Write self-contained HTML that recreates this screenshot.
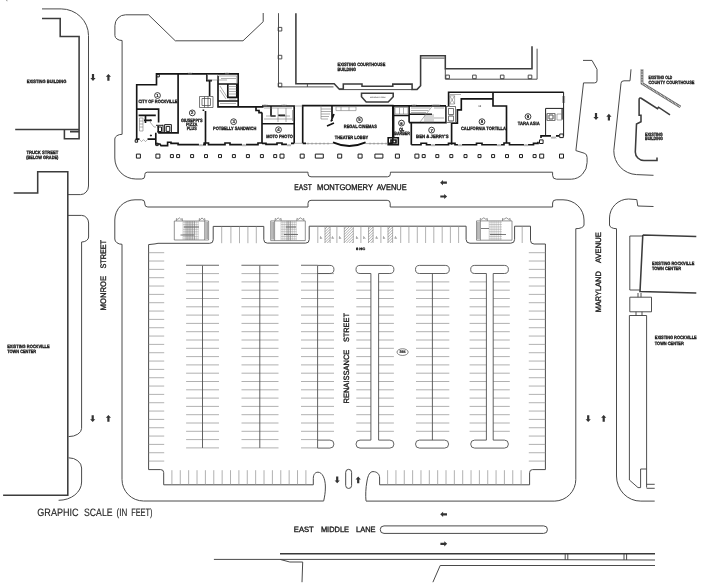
<!DOCTYPE html>
<html lang="en">
<head>
<meta charset="utf-8">
<title>Site Plan</title>
<style>
html,body{margin:0;padding:0;background:#fff;}
body{width:709px;height:588px;overflow:hidden;}
svg{display:block;filter:grayscale(1);}
path{fill:none;stroke-linecap:butt;stroke-linejoin:miter;}
.c{stroke:#4a4a4a;stroke-width:1;}
.t{stroke:#3c3c3c;stroke-width:.9;}
.b{stroke:#3c3c3c;stroke-width:1.55;}
.k{stroke:#3a3a3a;stroke-width:1.5;}
.r{stroke:#151515;stroke-width:1.65;}
.r2{stroke:#111;stroke-width:1.9;}
.g{stroke:#777;stroke-width:.6;}
.s{stroke:#1c1c1c;stroke-width:1;}
.p{stroke:#939393;stroke-width:.72;}
.hh{stroke:#707070;stroke-width:.55;}
.i{stroke:#505050;stroke-width:.9;}
.i2{stroke:#777;stroke-width:.9;}
.h{stroke:#606060;stroke-width:2.7;stroke-linejoin:round;}
.h3{stroke:#666;stroke-width:2.2;}
.h2{stroke:#e4e4e4;stroke-width:1.3;stroke-dasharray:.9 .7;stroke-linejoin:round;}
.sg{stroke:#999;stroke-width:.45;}
.sg2{stroke:#777;stroke-width:.5;}
.so{stroke:#666;stroke-width:.7;}
.sd{stroke:#444;stroke-width:.7;}
.a{fill:#333;stroke:none;}
.ue{fill:#fff;stroke:#333;stroke-width:.6;}
.uc{fill:#fff;stroke:#1a1a1a;stroke-width:.85;}
text{font-family:"Liberation Sans",sans-serif;fill:#222;text-rendering:geometricPrecision;}
.lb{font-weight:700;fill:#141414;stroke:#141414;stroke-width:.3;}
.lt{font-weight:700;fill:#444;}
.un{font-weight:700;fill:#111;stroke:#111;stroke-width:.15;}
.hcs{fill:#555;font-family:"DejaVu Sans","Liberation Sans",sans-serif;}
.st{fill:#1a1a1a;stroke:#1a1a1a;stroke-width:.34;}
.gs{fill:#262626;stroke:#262626;stroke-width:.15;}
</style>
</head>
<body>
<svg width="709" height="588" viewBox="0 0 709 588">
<rect x="0" y="0" width="709" height="588" fill="#fff"/>
<path class="c" d="M42,8.9 H61.2 A27.3,26.6 0 0 1 88.5,35.5 V186 A8,8.6 0 0 1 80.5,194.6 H68 M68,215.4 H81.6 A7,7.6 0 0 1 88.6,223 V237 A7,5 0 0 1 81.6,242 V428.4 A13,8.2 0 0 1 68.6,436.6 M68.6,457.8 A13,10.2 0 0 1 81.6,468 V482 A23,18.3 0 0 1 58.6,500.3 M263.2,13 V21.7 L243,40.8 H175.3 L148.5,14.8 H125.5 A10.6,10.9 0 0 0 114.9,25.7 V35.5 A7.2,5 0 0 0 122.1,40.5 V134.3 A7.3,4.7 0 0 0 114.8,139 V158 A21,21 0 0 0 135.8,179 H141.7 A3.1,3 0 0 0 144.8,176 V174.6 A2.4,2.4 0 0 1 147.2,172.2 H308 V173.8 A3,3 0 0 0 311,176.8 H387.4 A3,3 0 0 0 390.4,173.8 V172.2 H552.6 V175.3 A3.9,3.9 0 0 0 556.5,179.2 H571.3 A16.3,16.7 0 0 0 587.1,162.5 V157.5 A3.6,4.3 0 0 0 584.2,153.2 L575.9,150.6 L583.5,82.9 H594.4 A2.6,2.1 0 0 0 597,80.8 V69.3 L592,60.4 H583 M308,207 H147.8 A3,3 0 0 1 144.8,204 V203 A3.2,3.2 0 0 0 141.6,199.8 H135 A20.2,20.2 0 0 0 114.8,220 V239 A7.2,5.3 0 0 0 122,244.3 V479.5 A21.5,21.5 0 0 0 143.5,501 H323.7 M308,207 V203.3 A3,3 0 0 1 311,200.3 H387.2 A3,3 0 0 1 390.2,203.3 V207 H552.6 V203 A3.6,3.2 0 0 1 556.2,199.8 H563 A21,20.2 0 0 1 584,220 V225 A8,3.7 0 0 1 575.8,228.7 V479.5 A21.5,21.6 0 0 1 554.8,501.1 H366 M148.6,244.6 L155,243.9 L158,243.3 H209.7 A3.5,3.5 0 0 0 213.2,239.8 V226.4 H263.8 V239.6 A3.5,3.5 0 0 0 267.3,243.1 H305.7 A3.5,3.5 0 0 0 309.2,239.6 V226.2 H466.1 V239.4 A3.8,3.8 0 0 0 469.9,243.2 H510.8 A3.8,3.8 0 0 0 514.6,239.4 V226.2 H530.5 V240.4 A3.6,3.6 0 0 0 534.1,244 H545.4 V469.6 H532.6 A3,3 0 0 0 529.6,472.6 V484.8 H379.6 V478 C379.6,474 377,471.6 373,471.6 C370,471.6 368,475 367,481 C365.6,488 365.5,496 366,500.9 M148.6,244.6 V469.6 H160.7 A3,3 0 0 1 163.7,472.6 V484.8 H313.3 V478.5 C313.3,474 315.5,472.2 318,472.2 C322,472.2 325.4,478 325.4,487 C325.4,493 324.5,497 323.7,500.9 M345.7,472.3 A2.95,2.95 0 0 1 351.6,472.3 V485.5 A2.95,2.95 0 0 1 345.7,485.5 Z M384,525.9 H543.7 A3.75,3.75 0 0 1 543.7,533.4 H384 A3.75,3.75 0 0 1 384,525.9 Z M631,69.3 L630,80.8 H624 A3,2.5 0 0 0 621,83.3 L613.8,150.6 A23.8,23.8 0 0 0 636.5,174.6 L653.5,175.3 M653.5,206.5 L637.8,206 L636.8,199.6 L628.6,199 A19.2,19.2 0 0 0 609.5,218 V225 A7,3.7 0 0 0 616.5,228.7 V476 A24,25.1 0 0 0 640.8,501.1 H654.7 M213.9,559.4 H460 L655,560 M280,559.4 L289.8,562 H302.7 L302,582.2 M432.9,582.2 L440.2,565.5 L655,565.5 M565.2,553.4 V560 M567.8,553.4 V560 M624,553.4 V560 M626.6,553.4 V560"/>
<path class="t" d="M642.8,236 H629.8 V290 H640 M629.8,297.2 H651.5 V311.8 H629.8 Z M629.4,315.5 H646.6 M629.4,315.5 V480 L638,487.6 H640.6 V469 H646.6 M646.6,315.5 V487.6 M646.6,484.3 H654.7 M646.6,488.3 H654.7 M638,293 V297.2 M641,293 V297.2 M636,311.8 V315.5 M642,311.8 V315.5 M278.5,13.2 V86.9 H333.5 M339,89.6 H412.1 M307.4,83.8 V86.9 M421.3,58.1 H444.6 M445.3,68.7 V79.2 H537.1 V48.7"/>
<path class="b" d="M42,18.4 H60.2 V36.5 H79.1 V138.7 H64.4 V129.4 M79.1,129.4 H15.2 M70,131.6 H79.1 M13.7,193 H37.7 V171.8 H67.8 V495.2 H3.1 M295.9,13.2 V83.8 H334.2 L339.1,89 H343.3 V84 H362 V86.3 H392.8 V84.1 H412.1 V89.4 H417.1 L420.6,85.8 V55.8 H445.3 V68.7 H532 V46.2 M361.5,93.2 V96.8 L366.2,102 H388.2 L393.2,96.8 V93.2 Z M670,114.8 L658.5,107.2 L657.5,108.6 L641.2,98.3 Q639.2,97.4 639.1,99.8 V115.3 H641 V121.7 L636.5,124 L635.3,152 A8.7,8.5 0 0 0 644,160.5 H657 V157.4 M642.8,235 L696.3,236.6 M642.8,235 L640,291.6 L696.3,293"/>
<path class="h" d="M642,69.3 V83.4 L680.4,106.9"/>
<path class="h2" d="M642,69.3 V83.4 L680.4,106.9"/>
<path class="r" d="M136.7,139.1 V84.7 H156.5 V73.9 H238.2 V106.8 M178.1,73.9 V132.8 H158.2 M136.7,109.1 H158.6 V122.4 M138.6,115.4 H155.8 M144,120.3 H151 M145.5,115.4 V123 M135.6,139.1 H139.5 M147.5,139.1 H155.8 V144 H160 L161,145.6 H167.6 V142.2 H171 V143.4 H178.1 V144.6 H199 M203,144.6 H206 M155.8,132.8 V139.1 M158.2,126 V132.8 M206.8,73.9 V80.6 H212 M209.6,81.2 V96 M218,75.7 V106.8 H263.5 M227.8,84 H236.8 V97.3 H227.8 Z M218,84 H227.8 M218,101 H238.2 M205.5,111 V143 M203.4,111 V109.6 M203.4,143 H208.5 V144.6 H225 V143 H230 V144.6 H242 M246,144.6 H258 V143 H262 M262,112.6 V143.3 M256,107 V110.5 H259 V112.6 H262 M262,106 H294.2 V143.3 M262,123.7 H294.2 M262,143.3 H266 V144.4 H277 V143 H282 V144.4 H287 M291,143.3 H294.2 M270.5,116 H275.6 M278.2,115.3 H285 M271,106 V116 M302.7,143.3 V105.6 H392.8 V143.3 M302.7,143.3 H306 M388,143.3 H392.8 M334,114 L331,121.5 M332,105.6 V121 M327,126 L334,123 M393.6,105.9 V137.5 M393.6,115.5 H409.1 V105.9 M393.6,105.9 H446 M411.3,123 V144.7 M388.2,137.7 H398.3 V144.7 H388.2 Z M391,140 H396 V143 H391 Z M409.1,122.6 H446 V105.9 M409.1,114.2 H432 M409.1,115.5 V122.6 M451.6,123.1 V144.7 M411.3,144.7 H421 V143.2 H426.5 V144.7 H431 M435,144.7 H448.5 V143.4 H455 V144.7 H458 M448.6,105.9 V92.2 H563.6 M451.6,123.1 H457.4 V109.8 H461.3 V98.8 H493 V106 H506.5 V143.3 M493,92.2 V98.8 M462,144.7 H476.5 V143.2 H482 V144.7 H497 M501,144.7 H504 V143 H509.5 V144.7 H524 M528,144.7 H533.5 V143.4 H538 V141.8 M545.6,135.8 H541 V138 M545.6,135.8 H551 M556,135.8 H559"/>
<path class="r2" d="M333,142.4 Q349.3,149.6 365.6,142.4"/>
<path class="h3" d="M562.4,109 V119.5"/>
<path class="sd" d="M199.5,96.5 H213 V107.5 H199.5 Z M202,98.5 H210.5 V105.5 H202 Z M204.5,96.5 V107.5 M208,96.5 V107.5 M446.5,106.5 H455.5 V122.5 H446.5 Z M448.5,108.5 H453.5 V114.5 H448.5 Z M448.5,116 H453.5 V121 H448.5 Z M547,113.5 H555 V120.5 H547 Z M549,115 H553 V119 H549 Z"/>
<path class="g" d="M294.2,106 H302.7 M294.2,143.3 H302.7 M306,143.6 H333 M365.6,143.6 H388 M308,142.6 V144.6 M312,142.6 V144.6 M316,142.6 V144.6 M320,142.6 V144.6 M324,142.6 V144.6 M328,142.6 V144.6 M370,142.6 V144.6 M374,142.6 V144.6 M378,142.6 V144.6 M382,142.6 V144.6 M386,142.6 V144.6 M321,109 H331 M321,111.5 H331 M321,114 H330 M321,116.5 H329 M321,119 H328 M321,105.6 V119 M336,106.8 H356 V110.6 H336 Z M341,106.8 V110.6 M349,106.8 V110.6 M219,76 H237 M221,78.5 H236 M219,80 H227 M220,86 L227,97 M220,90 L226,99 M229,99 H236 M220,103.5 H236 M236.8,76 V84 M228,86.5 H236.5 M228,89 H236.5 M228,91.5 H236.5 M228,94 H236.5 M207,74.5 H217.5 V80 H207 Z M264,108 H292 M264,119 H292 M278,108 V122 M286,108 V122 M266,116 H276 M280,116 H290 M292.5,110 V121 M139.5,118 H143 V131 H139.5 Z M139.5,121 H143 M139.5,124 H143 M139.5,127 H143 M150,122 L154,127 H156 M139.5,139.6 L141.5,141.6 L143.5,139.6 L145.5,141.6 L147.5,139.6 M395,107.5 H408 V114 H395 Z M399.5,107.5 V114 M403.5,107.5 V114 M411,108 H430 M411,110.5 H428 M411,112.5 H426 M425,114.2 V122.6 M427,114.2 V122.6 M429,114.2 V122.6 M431,114.2 V122.6 M433,114.2 V122.6 M420,122 L432,106.5 M434,108 H444 M434,118 H444 M446.5,106.5 H455.5 V122.5 H446.5 Z M448.5,108.5 H453.5 V114.5 H448.5 Z M448.5,116 H453.5 V121 H448.5 Z M449.7,95.8 H454.6 V104 H449.7 Z M449.7,95.8 L454.6,104 M454.6,95.8 L449.7,104 M450,94.5 H461 M547,113.5 H555 V120.5 H547 Z M549,115 H553 V119 H549 Z M557,114 H562 V120 H557 Z M564.6,96 V103 M562.6,96 V103 M199,144.2 L200,146.2 L201,144.2 L202,146.2 L203,144.2 M242,144.2 L243,146.2 L244,144.2 L245,146.2 L246,144.2 M287,144.2 L288,146.2 L289,144.2 L290,146.2 L291,144.2 M431,144.2 L432,146.2 L433,144.2 L434,146.2 L435,144.2 M458,144.2 L459,146.2 L460,144.2 L461,146.2 L462,144.2 M497,144.2 L498,146.2 L499,144.2 L500,146.2 L501,144.2 M524,144.2 L525,146.2 L526,144.2 L527,146.2 L528,144.2 M188,72.6 L189,74.6 L190,72.6 L191,74.6 L192,72.6 M225,72.6 L226,74.6 L227,72.6 L228,74.6 L229,72.6 M263,104.4 L264,106.4 L265,104.4 L266,106.4 L267,104.4 M282,104.4 L283,106.4 L284,104.4 L285,106.4 L286,104.4 M412,104.4 L413,106.4 L414,104.4 L415,106.4 L416,104.4 M432,104.4 L433,106.4 L434,104.4 L435,106.4 L436,104.4 L437,106.4 L438,104.4 L439,106.4 L440,104.4 M551,136.6 L552,138.6 L553,136.6 L554,138.6 L555,136.6 L556,138.6"/>
<path class="s" d="M136.4,154.1 h4 v4 h-4 Z M155.9,154.1 h4 v4 h-4 Z M280,154.1 h4 v4 h-4 Z M300.2,154.1 h4 v4 h-4 Z M337.7,154.1 h4 v4 h-4 Z M358.1,154.1 h4 v4 h-4 Z M395.4,154.1 h4 v4 h-4 Z M414.9,154.1 h4 v4 h-4 Z M539.7,154.1 h4 v4 h-4 Z M559.5,154.1 h4 v4 h-4 Z M170.4,154.6 h3 v3 h-3 Z M176.6,154.6 h3 v3 h-3 Z M190.6,154.6 h3 v3 h-3 Z M204.5,154.6 h3 v3 h-3 Z M218.5,154.6 h3 v3 h-3 Z M232.4,154.6 h3 v3 h-3 Z M246.4,154.6 h3 v3 h-3 Z M260.4,154.6 h3 v3 h-3 Z M273.7,154.6 h3 v3 h-3 Z M422.2,154.6 h3 v3 h-3 Z M435.8,154.6 h3 v3 h-3 Z M449.8,154.6 h3 v3 h-3 Z M464,154.6 h3 v3 h-3 Z M478,154.6 h3 v3 h-3 Z M491.6,154.6 h3 v3 h-3 Z M505.5,154.6 h3 v3 h-3 Z M519.5,154.6 h3 v3 h-3 Z M533.1,154.6 h3 v3 h-3 Z M315.3,154.1 h8 v4 h-8 Z M374.9,154.1 h8 v4 h-8 Z M563.6,92.2 V136.3 M545.6,135.8 V108.4 H563.6 M156,125.3 H163 M163,124.8 V133 M164.6,124.6 H171.4 V132.8 M164.6,124.6 V132.8 M166.2,126.4 H169.8 V131.4 H166.2 Z M157.5,127 H161.5 V131.5 H157.5 M150.4,119.8 h1 v1 h-1 Z M150.4,135 h1 v1 h-1 Z M539.5,139.9 h3.6 v3.6 h-3.6 Z M559.7,134 h3.6 v3.6 h-3.6 Z M156.7,74.3 h2.6 v2.6 h-2.6 Z M135.2,139.8 h2.4 v2.4 h-2.4 Z M155.8,143.2 h2.4 v2.4 h-2.4 Z"/>
<path class="t" d="M278.2,27.4 h3.6 v3.6 h-3.6 Z M278.2,55.3 h3.6 v3.6 h-3.6 Z M278.2,83.2 h3.6 v3.6 h-3.6 Z M445.8,75.1 h3.6 v3.6 h-3.6 Z M472.6,75.1 h3.6 v3.6 h-3.6 Z M500.4,75.1 h3.6 v3.6 h-3.6 Z M528.2,75.1 h3.6 v3.6 h-3.6 Z"/>
<path class="p" d="M148.6,252.7 H164.2 M528.8,252.7 H545.4 M148.6,261.03 H164.2 M528.8,261.03 H545.4 M148.6,269.37 H164.2 M528.8,269.37 H545.4 M148.6,277.7 H164.2 M528.8,277.7 H545.4 M148.6,286.04 H164.2 M528.8,286.04 H545.4 M148.6,294.38 H164.2 M528.8,294.38 H545.4 M148.6,302.71 H164.2 M528.8,302.71 H545.4 M148.6,311.05 H164.2 M528.8,311.05 H545.4 M148.6,319.38 H164.2 M528.8,319.38 H545.4 M148.6,327.72 H164.2 M528.8,327.72 H545.4 M148.6,336.05 H164.2 M528.8,336.05 H545.4 M148.6,344.38 H164.2 M528.8,344.38 H545.4 M148.6,352.72 H164.2 M528.8,352.72 H545.4 M148.6,361.06 H164.2 M528.8,361.06 H545.4 M148.6,369.39 H164.2 M528.8,369.39 H545.4 M148.6,377.73 H164.2 M528.8,377.73 H545.4 M148.6,386.06 H164.2 M528.8,386.06 H545.4 M148.6,394.39 H164.2 M528.8,394.39 H545.4 M148.6,402.73 H164.2 M528.8,402.73 H545.4 M148.6,411.06 H164.2 M528.8,411.06 H545.4 M148.6,419.4 H164.2 M528.8,419.4 H545.4 M148.6,427.74 H164.2 M528.8,427.74 H545.4 M148.6,436.07 H164.2 M528.8,436.07 H545.4 M148.6,444.4 H164.2 M528.8,444.4 H545.4 M148.6,452.74 H164.2 M528.8,452.74 H545.4 M148.6,461.08 H164.2 M528.8,461.08 H545.4 M186.1,265.3 H219 M186.1,273.6 H219 M186.1,281.9 H219 M186.1,290.2 H219 M186.1,298.5 H219 M186.1,306.8 H219 M186.1,315.1 H219 M186.1,323.4 H219 M186.1,331.7 H219 M186.1,340 H219 M186.1,348.3 H219 M186.1,356.6 H219 M186.1,364.9 H219 M186.1,373.2 H219 M186.1,381.5 H219 M186.1,389.8 H219 M186.1,398.1 H219 M186.1,406.4 H219 M186.1,414.7 H219 M186.1,423 H219 M186.1,431.3 H219 M186.1,439.6 H219 M186.1,447.9 H219 M241.5,265.3 H278.5 M241.5,273.6 H278.5 M241.5,281.9 H278.5 M241.5,290.2 H278.5 M241.5,298.5 H278.5 M241.5,306.8 H278.5 M241.5,315.1 H278.5 M241.5,323.4 H278.5 M241.5,331.7 H278.5 M241.5,340 H278.5 M241.5,348.3 H278.5 M241.5,356.6 H278.5 M241.5,364.9 H278.5 M241.5,373.2 H278.5 M241.5,381.5 H278.5 M241.5,389.8 H278.5 M241.5,398.1 H278.5 M241.5,406.4 H278.5 M241.5,414.7 H278.5 M241.5,423 H278.5 M241.5,431.3 H278.5 M241.5,439.6 H278.5 M241.5,447.9 H278.5 M301,265.3 H317.6 M301,273.6 H317.6 M301,281.9 H317.6 M301,290.2 H317.6 M301,298.5 H317.6 M301,306.8 H317.6 M301,315.1 H317.6 M301,323.4 H317.6 M301,331.7 H317.6 M301,340 H317.6 M301,348.3 H317.6 M301,356.6 H317.6 M301,364.9 H317.6 M301,373.2 H317.6 M301,381.5 H317.6 M301,389.8 H317.6 M301,398.1 H317.6 M301,406.4 H317.6 M301,414.7 H317.6 M301,423 H317.6 M301,431.3 H317.6 M301,439.6 H317.6 M301,447.9 H317.6 M317.6,273.6 H334 M317.6,281.9 H334 M317.6,290.2 H334 M317.6,298.5 H334 M317.6,306.8 H334 M317.6,315.1 H334 M317.6,323.4 H334 M317.6,331.7 H334 M317.6,340 H334 M317.6,348.3 H334 M317.6,356.6 H334 M317.6,364.9 H334 M317.6,373.2 H334 M317.6,381.5 H334 M317.6,389.8 H334 M317.6,398.1 H334 M317.6,406.4 H334 M317.6,414.7 H334 M317.6,423 H334 M317.6,431.3 H334 M356.3,281.9 H370.9 M378.6,281.9 H393.9 M469.6,281.9 H486.4 M493.2,281.9 H509.8 M416,281.9 H449.3 M356.3,290.2 H370.9 M378.6,290.2 H393.9 M469.6,290.2 H486.4 M493.2,290.2 H509.8 M416,290.2 H449.3 M356.3,298.5 H370.9 M378.6,298.5 H393.9 M469.6,298.5 H486.4 M493.2,298.5 H509.8 M416,298.5 H449.3 M356.3,306.8 H370.9 M378.6,306.8 H393.9 M469.6,306.8 H486.4 M493.2,306.8 H509.8 M416,306.8 H449.3 M356.3,315.1 H370.9 M378.6,315.1 H393.9 M469.6,315.1 H486.4 M493.2,315.1 H509.8 M416,315.1 H449.3 M356.3,323.4 H370.9 M378.6,323.4 H393.9 M469.6,323.4 H486.4 M493.2,323.4 H509.8 M416,323.4 H449.3 M356.3,331.7 H370.9 M378.6,331.7 H393.9 M469.6,331.7 H486.4 M493.2,331.7 H509.8 M416,331.7 H449.3 M356.3,340 H370.9 M378.6,340 H393.9 M469.6,340 H486.4 M493.2,340 H509.8 M416,340 H449.3 M356.3,348.3 H370.9 M378.6,348.3 H393.9 M469.6,348.3 H486.4 M493.2,348.3 H509.8 M416,348.3 H449.3 M356.3,356.6 H370.9 M378.6,356.6 H393.9 M469.6,356.6 H486.4 M493.2,356.6 H509.8 M416,356.6 H449.3 M356.3,364.9 H370.9 M378.6,364.9 H393.9 M469.6,364.9 H486.4 M493.2,364.9 H509.8 M416,364.9 H449.3 M356.3,373.2 H370.9 M378.6,373.2 H393.9 M469.6,373.2 H486.4 M493.2,373.2 H509.8 M416,373.2 H449.3 M356.3,381.5 H370.9 M378.6,381.5 H393.9 M469.6,381.5 H486.4 M493.2,381.5 H509.8 M416,381.5 H449.3 M356.3,389.8 H370.9 M378.6,389.8 H393.9 M469.6,389.8 H486.4 M493.2,389.8 H509.8 M416,389.8 H449.3 M356.3,398.1 H370.9 M378.6,398.1 H393.9 M469.6,398.1 H486.4 M493.2,398.1 H509.8 M416,398.1 H449.3 M356.3,406.4 H370.9 M378.6,406.4 H393.9 M469.6,406.4 H486.4 M493.2,406.4 H509.8 M416,406.4 H449.3 M356.3,414.7 H370.9 M378.6,414.7 H393.9 M469.6,414.7 H486.4 M493.2,414.7 H509.8 M416,414.7 H449.3 M356.3,423 H370.9 M378.6,423 H393.9 M469.6,423 H486.4 M493.2,423 H509.8 M416,423 H449.3 M356.3,431.3 H370.9 M378.6,431.3 H393.9 M469.6,431.3 H486.4 M493.2,431.3 H509.8 M416,431.3 H449.3 M171.9,470.2 V484.8 M180.28,470.2 V484.8 M188.65,470.2 V484.8 M197.03,470.2 V484.8 M205.4,470.2 V484.8 M213.78,470.2 V484.8 M222.15,470.2 V484.8 M230.53,470.2 V484.8 M238.9,470.2 V484.8 M247.28,470.2 V484.8 M255.65,470.2 V484.8 M264.02,470.2 V484.8 M272.4,470.2 V484.8 M280.77,470.2 V484.8 M289.15,470.2 V484.8 M297.52,470.2 V484.8 M305.9,470.2 V484.8 M387.6,470.2 V484.8 M395.94,470.2 V484.8 M404.29,470.2 V484.8 M412.63,470.2 V484.8 M420.98,470.2 V484.8 M429.32,470.2 V484.8 M437.66,470.2 V484.8 M446.01,470.2 V484.8 M454.35,470.2 V484.8 M462.7,470.2 V484.8 M471.04,470.2 V484.8 M479.38,470.2 V484.8 M487.73,470.2 V484.8 M496.07,470.2 V484.8 M504.42,470.2 V484.8 M512.76,470.2 V484.8 M521.1,470.2 V484.8 M221.7,226.5 V243.2 M230.9,226.5 V243.2 M239.5,226.5 V243.2 M247.9,226.5 V243.2 M256.3,226.5 V243.2 M317.8,226.3 V243 M325,226.3 V243 M330.1,226.3 V243 M336.9,226.3 V243 M344.3,226.3 V243 M353.3,226.3 V243 M360.9,226.3 V243 M368.5,226.3 V243 M373.1,226.3 V243 M380.9,226.3 V243 M388,226.3 V243 M392.6,226.3 V243 M400.7,226.3 V243 M408.9,226.3 V243 M417.3,226.3 V243 M425.6,226.3 V243 M433.8,226.3 V243 M442.2,226.3 V243 M450.4,226.3 V243 M458.6,226.3 V243 M522.2,226.3 V243"/>
<path class="i" d="M202.5,265.3 V447.9 M259.8,265.3 V447.9 M432.4,273.5 V440.1 M317.6,265.4 V448.1 M317.6,265.4 H329.9 A4.05,4.05 0 0 1 329.9,273.5 H317.6 M317.6,440.1 H329.9 A4,4 0 0 1 329.9,448.1 H317.6 M370.9,273.5 H360.05 A4.05,4.05 0 0 1 360.05,265.4 H389.85 A4.05,4.05 0 0 1 389.85,273.5 H378.6 V440.1 H389.9 A4,4 0 0 1 389.9,448.1 H360 A4,4 0 0 1 360,440.1 H370.9 Z M486.4,273.5 H474.75 A4.05,4.05 0 0 1 474.75,265.4 H504.35 A4.05,4.05 0 0 1 504.35,273.5 H493.2 V440.1 H504.4 A4,4 0 0 1 504.4,448.1 H474.7 A4,4 0 0 1 474.7,440.1 H486.4 Z M419.55,265.4 H445.25 A4.05,4.05 0 0 1 445.25,273.5 H419.55 A4.05,4.05 0 0 1 419.55,265.4 Z M419.5,440.1 H444.6 A4,4 0 0 1 444.6,448.1 H419.5 A4,4 0 0 1 419.5,440.1 Z"/>
<path class="i2" d="M186.1,265.3 H219 M241.5,265.3 H278.5 M301,265.3 H317.6 M6.6,0 L7.1,1.2"/>
<path class="hh" d="M325,229 L327.7,226.3 M325,231.7 L330.1,226.6 M325,234.4 L330.1,229.3 M325,237.1 L330.1,232 M325,239.8 L330.1,234.7 M325,242.5 L330.1,237.4 M327.2,243 L330.1,240.1 M329.9,243 L330.1,242.8 M344.3,229 L347,226.3 M344.3,231.7 L349.7,226.3 M344.3,234.4 L352.4,226.3 M344.3,237.1 L353.3,228.1 M344.3,239.8 L353.3,230.8 M344.3,242.5 L353.3,233.5 M346.5,243 L353.3,236.2 M349.2,243 L353.3,238.9 M351.9,243 L353.3,241.6 M368.5,229 L371.2,226.3 M368.5,231.7 L373.1,227.1 M368.5,234.4 L373.1,229.8 M368.5,237.1 L373.1,232.5 M368.5,239.8 L373.1,235.2 M368.5,242.5 L373.1,237.9 M370.7,243 L373.1,240.6 M388,229 L390.7,226.3 M388,231.7 L392.6,227.1 M388,234.4 L392.6,229.8 M388,237.1 L392.6,232.5 M388,239.8 L392.6,235.2 M388,242.5 L392.6,237.9 M390.2,243 L392.6,240.6"/>
<path class="so" d="M174.3,221 H208.6 V240 H174.3 Z M207.3,222 V239 M206,222 V239 M204.7,221 V240 M176.4,221 V218.6 L177.8,219.4 L179.35,217.9 L180.9,219.4 L182.3,218.6 V221 M199.3,221 V218.6 L200.7,219.4 L202.05,217.9 L203.4,219.4 L204.8,218.6 V221"/>
<path class="sg" d="M183,221 V240 M184.9,221 V240 M186.8,221 V240 M188.7,221 V240 M190.6,221 V240 M192.5,221 V240 M194.4,221 V240 M196.3,221 V240 M198.2,221 V240 M183,222.2 H198.5 M183,224.6 H198.5 M183,227 H198.5 M183,229.4 H198.5 M183,231.8 H198.5 M183,234.2 H198.5 M183,236.6 H198.5 M183,239 H198.5"/>
<path class="so" d="M270.7,220.9 H305.3 V240.6 H270.7 Z M272,221.9 V239.6 M273.3,221.9 V239.6 M274.6,220.9 V240.6 M275.2,220.9 V218.5 L276.6,219.3 L278.15,217.8 L279.7,219.3 L281.1,218.5 V220.9 M296.9,220.9 V218.5 L298.3,219.3 L300.35,217.8 L302.4,219.3 L303.8,218.5 V220.9"/>
<path class="sg" d="M281,220.9 V240.6 M282.9,220.9 V240.6 M284.8,220.9 V240.6 M286.7,220.9 V240.6 M288.6,220.9 V240.6 M290.5,220.9 V240.6 M292.4,220.9 V240.6 M294.3,220.9 V240.6 M296.2,220.9 V240.6 M281,222.1 H296.5 M281,224.5 H296.5 M281,226.9 H296.5 M281,229.3 H296.5 M281,231.7 H296.5 M281,234.1 H296.5 M281,236.5 H296.5 M281,238.9 H296.5"/>
<path class="so" d="M476.5,220.9 H512 V240.2 H476.5 Z M477.8,221.9 V239.2 M479.1,221.9 V239.2 M480.4,220.9 V240.2 M480.3,220.9 V218.5 L481.7,219.3 L483.8,217.8 L485.9,219.3 L487.3,218.5 V220.9 M502.5,220.9 V218.5 L503.9,219.3 L506.3,217.8 L508.7,219.3 L510.1,218.5 V220.9"/>
<path class="sg" d="M489.2,220.9 V240.2 M491.1,220.9 V240.2 M493,220.9 V240.2 M494.9,220.9 V240.2 M496.8,220.9 V240.2 M498.7,220.9 V240.2 M500.6,220.9 V240.2 M489.2,222.1 H501.9 M489.2,224.5 H501.9 M489.2,226.9 H501.9 M489.2,229.3 H501.9 M489.2,231.7 H501.9 M489.2,234.1 H501.9 M489.2,236.5 H501.9 M489.2,238.9 H501.9"/>
<path class="sd" d="M180.5,235 H194 M184,227 H199 M286,227 H296 M284,234.5 H298 M490,234.5 H506 M481,228.5 H489"/>
<path class="sg2" d="M186,221 V240 M187.7,221 V240 M189.4,221 V240 M191.1,221 V240 M192.8,221 V240 M194.5,221 V240 M287.2,220.9 V240.6 M288.9,220.9 V240.6 M290.6,220.9 V240.6"/>
<polygon class="a" points="91.9,74.1 91.9,78 90.4,78 93,80.9 95.6,78 94.1,78 94.1,74.1"/>
<polygon class="a" points="107.3,80.7 107.3,76.8 105.8,76.8 108.4,73.9 111,76.8 109.5,76.8 109.5,80.7"/>
<polygon class="a" points="91.6,415.3 91.6,419.2 90.1,419.2 92.7,422.1 95.3,419.2 93.8,419.2 93.8,415.3"/>
<polygon class="a" points="107.3,421.7 107.3,417.8 105.8,417.8 108.4,414.9 111,417.8 109.5,417.8 109.5,421.7"/>
<polygon class="a" points="594.9,113.1 594.9,117 593.4,117 596,119.9 598.6,117 597.1,117 597.1,113.1"/>
<polygon class="a" points="607.8,120.6 607.8,116.7 606.3,116.7 608.9,113.8 611.5,116.7 610,116.7 610,120.6"/>
<polygon class="a" points="587.1,415.3 587.1,419.2 585.6,419.2 588.2,422.1 590.8,419.2 589.3,419.2 589.3,415.3"/>
<polygon class="a" points="602.6,421.7 602.6,417.8 601.1,417.8 603.7,414.9 606.3,417.8 604.8,417.8 604.8,421.7"/>
<polygon class="a" points="336.1,476.5 336.1,480.4 334.6,480.4 337.2,483.3 339.8,480.4 338.3,480.4 338.3,476.5"/>
<polygon class="a" points="357.1,483.3 357.1,479.4 355.6,479.4 358.2,476.5 360.8,479.4 359.3,479.4 359.3,483.3"/>
<polygon class="a" points="447,513.2 443.1,513.2 443.1,511.7 440.2,514.3 443.1,516.9 443.1,515.4 447,515.4"/>
<polygon class="a" points="440.4,542.7 444.3,542.7 444.3,541.2 447.2,543.8 444.3,546.4 444.3,544.9 440.4,544.9"/>
<polygon class="a" points="446.9,181.6 443,181.6 443,180.1 440.1,182.7 443,185.3 443,183.8 446.9,183.8"/>
<polygon class="a" points="440.3,195.4 444.2,195.4 444.2,193.9 447.1,196.5 444.2,199.1 444.2,197.6 440.3,197.6"/>
<path class="k" d="M280,553.8 H655"/>
<text class="lb" x="26.8" y="82.9" font-size="4.7" text-anchor="start" textLength="39.5" lengthAdjust="spacingAndGlyphs">EXISTING BUILDING</text>
<text class="lb" x="26.4" y="154.1" font-size="4.7" text-anchor="start" textLength="31.8" lengthAdjust="spacingAndGlyphs">TRUCK STREET</text>
<text class="lb" x="26.2" y="159.2" font-size="4.7" text-anchor="start" textLength="32.2" lengthAdjust="spacingAndGlyphs">(BELOW GRADE)</text>
<text class="lb" x="7.2" y="347.5" font-size="4.7" text-anchor="start" textLength="42.5" lengthAdjust="spacingAndGlyphs">EXISTING ROCKVILLE</text>
<text class="lb" x="7.2" y="352.7" font-size="4.7" text-anchor="start" textLength="29" lengthAdjust="spacingAndGlyphs">TOWN CENTER</text>
<text class="lb" x="337.6" y="66" font-size="4.7" text-anchor="start" textLength="47.7" lengthAdjust="spacingAndGlyphs">EXISTING COURTHOUSE</text>
<text class="lb" x="337.6" y="71" font-size="4.7" text-anchor="start" textLength="18.5" lengthAdjust="spacingAndGlyphs">BUILDING</text>
<text class="lb" x="648.5" y="79.4" font-size="4.7" text-anchor="start" textLength="23.8" lengthAdjust="spacingAndGlyphs">EXISTING OLD</text>
<text class="lb" x="648.5" y="84" font-size="4.7" text-anchor="start" textLength="46" lengthAdjust="spacingAndGlyphs">COUNTY COURTHOUSE</text>
<text class="lb" x="645" y="135.5" font-size="4.7" text-anchor="start" textLength="17.8" lengthAdjust="spacingAndGlyphs">EXISTING</text>
<text class="lb" x="645" y="140.1" font-size="4.7" text-anchor="start" textLength="17.8" lengthAdjust="spacingAndGlyphs">BUILDING</text>
<text class="lb" x="652" y="264.9" font-size="4.7" text-anchor="start" textLength="42.3" lengthAdjust="spacingAndGlyphs">EXISTING ROCKVILLE</text>
<text class="lb" x="652" y="270.2" font-size="4.7" text-anchor="start" textLength="29" lengthAdjust="spacingAndGlyphs">TOWN CENTER</text>
<text class="lb" x="654.8" y="338.8" font-size="4.7" text-anchor="start" textLength="41.9" lengthAdjust="spacingAndGlyphs">EXISTING ROCKVILLE</text>
<text class="lb" x="654.8" y="344.7" font-size="4.7" text-anchor="start" textLength="29" lengthAdjust="spacingAndGlyphs">TOWN CENTER</text>
<text class="lt" x="370" y="98.4" font-size="2" text-anchor="start" textLength="15.5" lengthAdjust="spacingAndGlyphs">EXISTING ENTRY TOWER</text>
<circle class="uc" cx="157.5" cy="95.5" r="2.9"/>
<text class="un" x="157.5" y="97.05" font-size="4.3" text-anchor="middle">1</text>
<text class="lb" x="157.9" y="103.4" font-size="4.7" text-anchor="middle" textLength="39" lengthAdjust="spacingAndGlyphs">CITY OF ROCKVILLE</text>
<circle class="uc" cx="192.3" cy="112.9" r="2.9"/>
<text class="un" x="192.3" y="114.45" font-size="4.3" text-anchor="middle">2</text>
<text class="lb" x="191.7" y="121.8" font-size="4.7" text-anchor="middle" textLength="21.6" lengthAdjust="spacingAndGlyphs">GIUSEPPI'S</text>
<text class="lb" x="191.7" y="126.1" font-size="4.7" text-anchor="middle" textLength="11.5" lengthAdjust="spacingAndGlyphs">PIZZA</text>
<text class="lb" x="191.7" y="130.4" font-size="4.7" text-anchor="middle" textLength="10" lengthAdjust="spacingAndGlyphs">PLUS</text>
<circle class="uc" cx="233.6" cy="121.7" r="2.9"/>
<text class="un" x="233.6" y="123.25" font-size="4.3" text-anchor="middle">3</text>
<text class="lb" x="234.7" y="129.7" font-size="4.7" text-anchor="middle" textLength="43.2" lengthAdjust="spacingAndGlyphs">POTBELLY SANDWICH</text>
<circle class="uc" cx="278.5" cy="129.7" r="2.9"/>
<text class="un" x="278.5" y="131.25" font-size="4.3" text-anchor="middle">4</text>
<text class="lb" x="279.5" y="138" font-size="4.7" text-anchor="middle" textLength="26.5" lengthAdjust="spacingAndGlyphs">MOTO PHOTO</text>
<circle class="uc" cx="359.5" cy="119.8" r="2.9"/>
<text class="un" x="359.5" y="121.35" font-size="4.3" text-anchor="middle">5</text>
<text class="lb" x="360.3" y="127.6" font-size="4.7" text-anchor="middle" textLength="33" lengthAdjust="spacingAndGlyphs">REGAL CINEMAS</text>
<text class="lb" x="351.5" y="138.8" font-size="4.7" text-anchor="middle" textLength="33.5" lengthAdjust="spacingAndGlyphs">THEATER LOBBY</text>
<circle class="uc" cx="401.5" cy="123.1" r="2.9"/>
<text class="un" x="401.5" y="124.65" font-size="4.3" text-anchor="middle">6</text>
<text class="lb" x="401.7" y="130.9" font-size="4.7" text-anchor="middle" textLength="5" lengthAdjust="spacingAndGlyphs">QL</text>
<text class="lb" x="402.1" y="135.4" font-size="4.7" text-anchor="middle" textLength="15.5" lengthAdjust="spacingAndGlyphs">BARBER</text>
<circle class="uc" cx="431.6" cy="130.1" r="2.9"/>
<text class="un" x="431.6" y="131.65" font-size="4.3" text-anchor="middle">7</text>
<text class="lb" x="432.3" y="137.9" font-size="4.7" text-anchor="middle" textLength="32.4" lengthAdjust="spacingAndGlyphs">BEN &amp; JERRY'S</text>
<circle class="uc" cx="482" cy="121.7" r="2.9"/>
<text class="un" x="482" y="123.25" font-size="4.3" text-anchor="middle">8</text>
<text class="lb" x="483.4" y="129.7" font-size="4.7" text-anchor="middle" textLength="45" lengthAdjust="spacingAndGlyphs">CALIFORNIA TORTILLA</text>
<circle class="uc" cx="528" cy="116.6" r="2.9"/>
<text class="un" x="528" y="118.15" font-size="4.3" text-anchor="middle">9</text>
<text class="lb" x="528.7" y="124.7" font-size="4.7" text-anchor="middle" textLength="22" lengthAdjust="spacingAndGlyphs">TARA ASIA</text>
<text class="lt" x="478.3" y="107" font-size="2.6" text-anchor="start">13</text>
<text class="lb" x="355.9" y="250.2" font-size="3.4" text-anchor="start" textLength="9.3" lengthAdjust="spacingAndGlyphs">8 HC</text>
<ellipse class="ue" cx="402.6" cy="352.1" rx="5.6" ry="3.35"/>
<text class="un" x="402.6" y="353.4" font-size="3.7" text-anchor="middle">365</text>
<text class="hcs" x="321.2" y="239.2" font-size="4.2" text-anchor="middle">&#x267F;</text>
<text class="hcs" x="333" y="239.2" font-size="4.2" text-anchor="middle">&#x267F;</text>
<text class="hcs" x="340.1" y="239.2" font-size="4.2" text-anchor="middle">&#x267F;</text>
<text class="hcs" x="357.2" y="239.2" font-size="4.2" text-anchor="middle">&#x267F;</text>
<text class="hcs" x="364.3" y="239.2" font-size="4.2" text-anchor="middle">&#x267F;</text>
<text class="hcs" x="377" y="239.2" font-size="4.2" text-anchor="middle">&#x267F;</text>
<text class="hcs" x="384.1" y="239.2" font-size="4.2" text-anchor="middle">&#x267F;</text>
<text class="hcs" x="396" y="239.2" font-size="4.2" text-anchor="middle">&#x267F;</text>
<text class="st" x="294.3" y="190.2" font-size="8.3" text-anchor="start" textLength="17.4" lengthAdjust="spacingAndGlyphs">EAST</text>
<text class="st" x="317.1" y="190.2" font-size="8.3" text-anchor="start" textLength="55.9" lengthAdjust="spacingAndGlyphs">MONTGOMERY</text>
<text class="st" x="376.7" y="190.2" font-size="8.3" text-anchor="start" textLength="30" lengthAdjust="spacingAndGlyphs">AVENUE</text>
<text class="st" x="293.8" y="532" font-size="7.7" text-anchor="start" textLength="20" lengthAdjust="spacingAndGlyphs">EAST</text>
<text class="st" x="320.9" y="532" font-size="7.7" text-anchor="start" textLength="28.1" lengthAdjust="spacingAndGlyphs">MIDDLE</text>
<text class="st" x="356.1" y="532" font-size="7.7" text-anchor="start" textLength="19.5" lengthAdjust="spacingAndGlyphs">LANE</text>
<text class="st" x="105.8" y="310.4" font-size="8.0" text-anchor="start" textLength="34.5" lengthAdjust="spacingAndGlyphs" transform="rotate(-90 105.8 310.4)">MONROE</text>
<text class="st" x="105.8" y="268.6" font-size="8.0" text-anchor="start" textLength="28.6" lengthAdjust="spacingAndGlyphs" transform="rotate(-90 105.8 268.6)">STREET</text>
<text class="st" x="348.7" y="403.5" font-size="7.7" text-anchor="start" textLength="53.9" lengthAdjust="spacingAndGlyphs" transform="rotate(-90 348.7 403.5)">RENAISSANCE</text>
<text class="st" x="348.7" y="342.1" font-size="7.7" text-anchor="start" textLength="29" lengthAdjust="spacingAndGlyphs" transform="rotate(-90 348.7 342.1)">STREET</text>
<text class="st" x="601.4" y="312.3" font-size="7.9" text-anchor="start" textLength="41.1" lengthAdjust="spacingAndGlyphs" transform="rotate(-90 601.4 312.3)">MARYLAND</text>
<text class="st" x="601.4" y="263.1" font-size="7.9" text-anchor="start" textLength="30.9" lengthAdjust="spacingAndGlyphs" transform="rotate(-90 601.4 263.1)">AVENUE</text>
<text class="gs" x="37.3" y="516.4" font-size="10.7" text-anchor="start" textLength="41.3" lengthAdjust="spacingAndGlyphs">GRAPHIC</text>
<text class="gs" x="84.1" y="516.4" font-size="10.7" text-anchor="start" textLength="28.4" lengthAdjust="spacingAndGlyphs">SCALE</text>
<text class="gs" x="116.5" y="516.4" font-size="10.7" text-anchor="start" textLength="10.7" lengthAdjust="spacingAndGlyphs">(IN</text>
<text class="gs" x="131.2" y="516.4" font-size="10.7" text-anchor="start" textLength="21.3" lengthAdjust="spacingAndGlyphs">FEET)</text>
</svg>
</body>
</html>
